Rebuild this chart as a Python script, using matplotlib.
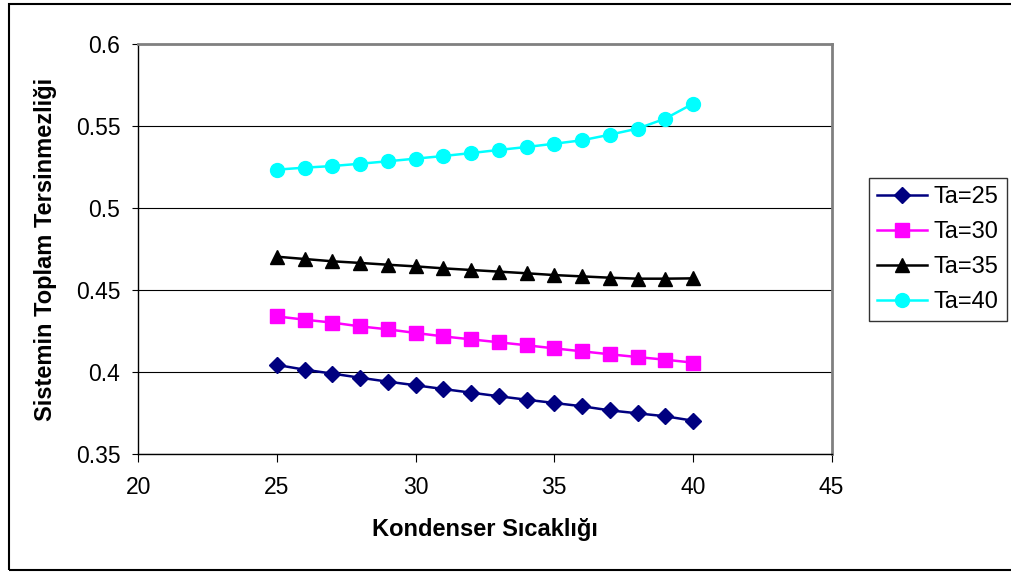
import matplotlib.pyplot as plt
from matplotlib.patches import Rectangle

plt.rcParams['font.family'] = ['Liberation Sans', 'DejaVu Sans']

# Kondenser sıcaklığı (x ekseni)
kondenser = [25, 26, 27, 28, 29, 30, 31, 32, 33, 34, 35, 36, 37, 38, 39, 40]

# Sistemin toplam tersinmezliği, her ortam sıcaklığı için
ta25 = [0.4043, 0.4014, 0.3990, 0.3965, 0.3941, 0.3919, 0.3896, 0.3874,
        0.3852, 0.3831, 0.3811, 0.3791, 0.3766, 0.3748, 0.3730, 0.3703]
ta30 = [0.4339, 0.4319, 0.4301, 0.4278, 0.4260, 0.4238, 0.4217, 0.4199,
        0.4181, 0.4163, 0.4144, 0.4126, 0.4108, 0.4091, 0.4075, 0.4057]
ta35 = [0.4703, 0.4689, 0.4675, 0.4665, 0.4654, 0.4644, 0.4632, 0.4622,
        0.4612, 0.4602, 0.4591, 0.4583, 0.4575, 0.4569, 0.4569, 0.4571]
ta40 = [0.5234, 0.5246, 0.5256, 0.5270, 0.5285, 0.5301, 0.5317, 0.5335,
        0.5354, 0.5372, 0.5392, 0.5413, 0.5447, 0.5484, 0.5545, 0.5636]

seri_adlari = ['Ta=25', 'Ta=30', 'Ta=35', 'Ta=40']
x_ticks = [20, 25, 30, 35, 40, 45]
y_ticks = [0.35, 0.4, 0.45, 0.5, 0.55, 0.6]
y_tick_labels = ['0.35', '0.4', '0.45', '0.5', '0.55', '0.6']

fig = plt.figure(figsize=(10.12, 5.73), dpi=100)
ax = fig.add_axes([0.1367, 0.2077, 0.6851, 0.7155])

# Dış çerçeve
fig.patches.append(Rectangle((0.0089, 0.0052), 1.2, 0.9878, transform=fig.transFigure,
                             fill=False, edgecolor='black', linewidth=1.5))

stiller = [
    dict(color='#000080', marker='D', markersize=8.5),
    dict(color='#FF00FF', marker='s', markersize=9.5),
    dict(color='black', marker='^', markersize=10.5),
    dict(color='#00FFFF', marker='o', markersize=10),
]
for seri, ad, st in zip([ta25, ta30, ta35, ta40], seri_adlari, stiller):
    ax.plot(kondenser, seri, linewidth=1.8, label=ad, clip_on=False, **st)

ax.set_xlim(20, 45)
ax.set_ylim(0.35, 0.6)
ax.set_xticks(x_ticks)
ax.set_yticks(y_ticks)
ax.set_yticklabels(y_tick_labels)
ax.tick_params(axis='both', direction='out', labelsize=16.5, color='black')
ax.tick_params(axis='x', length=5.5, pad=10)
ax.tick_params(axis='y', length=4.5, pad=8.5)

ax.grid(axis='y', color='black', linewidth=0.8)
ax.set_axisbelow(True)
for s in ['top', 'right']:
    ax.spines[s].set_color('#808080')
    ax.spines[s].set_linewidth(2)
for s in ['left', 'bottom']:
    ax.spines[s].set_color('black')
    ax.spines[s].set_linewidth(1)

ax.set_xlabel('Kondenser Sıcaklığı', fontsize=17, fontweight='bold')
ax.set_ylabel('Sistemin Toplam Tersinmezliği', fontsize=17, fontweight='bold')
ax.xaxis.set_label_coords(0.5, -0.157)
ax.yaxis.set_label_coords(-0.117, 0.5)

leg = fig.legend(loc='upper left', bbox_to_anchor=(0.8587, 0.6894), fontsize=17,
                 frameon=True, fancybox=False, edgecolor='black', borderpad=0.35,
                 labelspacing=0.55, handlelength=2.1, handletextpad=0.3,
                 borderaxespad=0)
leg.get_frame().set_linewidth(1)

fig.savefig('out.png', dpi=100)
